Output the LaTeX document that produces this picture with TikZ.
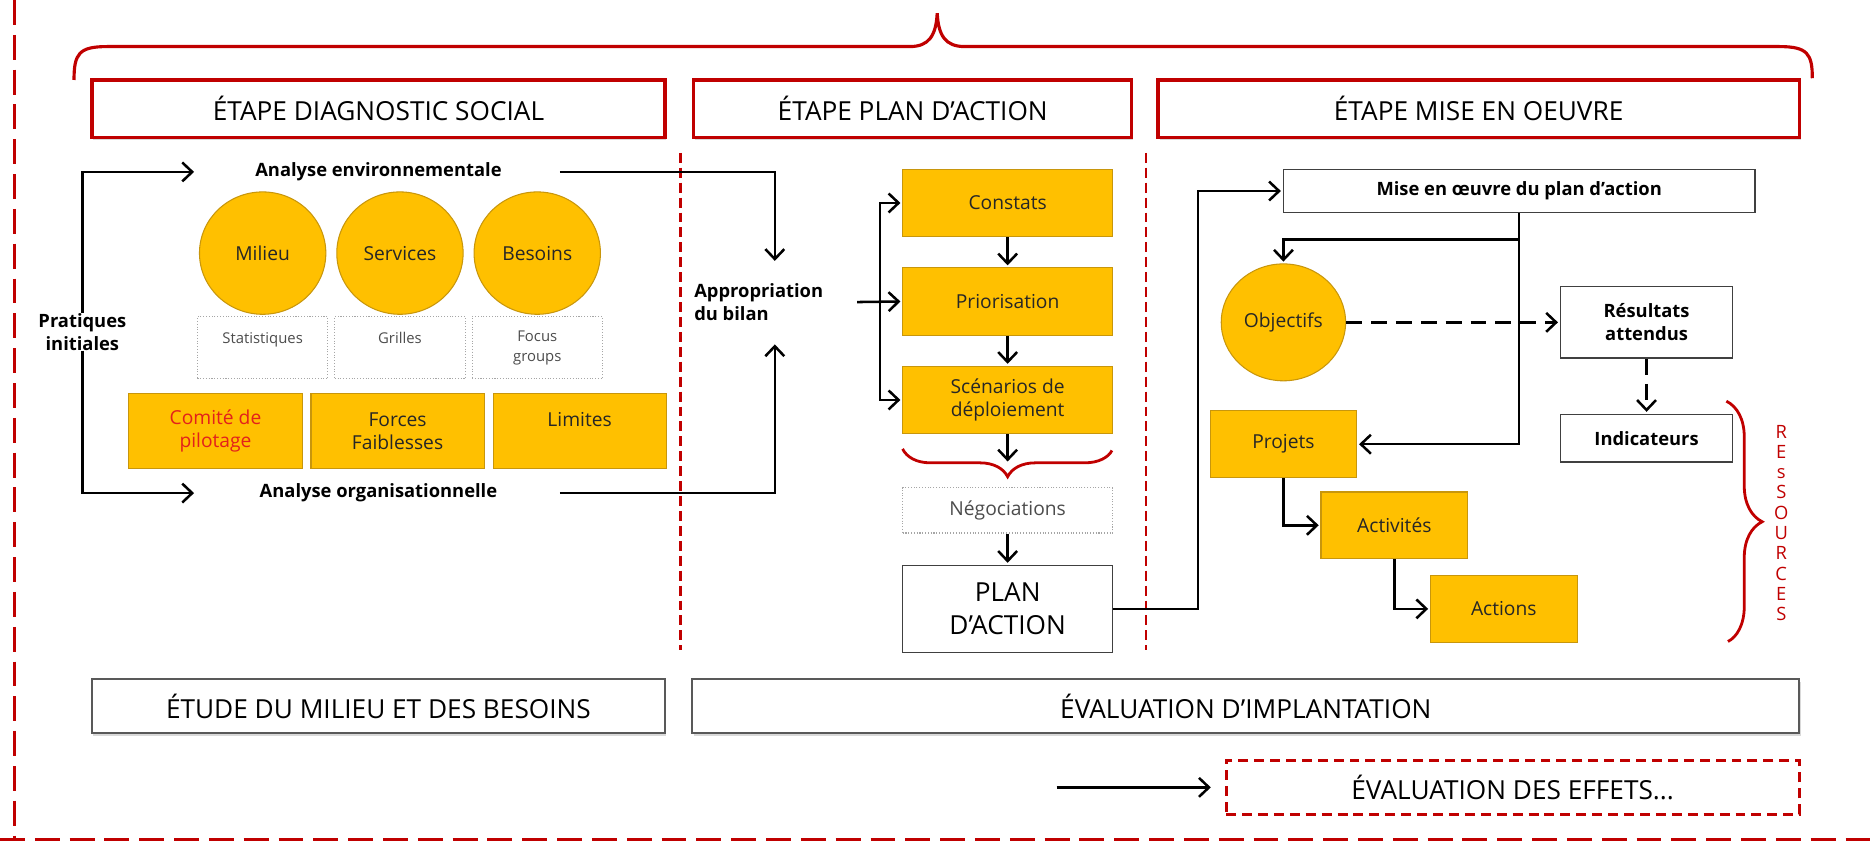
\documentclass[tikz,border=0pt]{standalone}
\usepackage{fontspec}
\setmainfont{Open Sans}
\usetikzlibrary{positioning,shapes.geometric,arrows.meta,decorations.pathreplacing,shadows,calc}
\definecolor{rouge}{HTML}{C00000}
\definecolor{rougevif}{HTML}{E3211B}
\definecolor{jaune}{HTML}{FFC000}
\definecolor{jaunefonce}{HTML}{C8960C}

\tikzset{
  etape/.style={draw=rouge, line width=1.8pt, fill=white, minimum height=11.5mm, inner sep=0pt,
    font=\fontsize{15}{18}\selectfont, drop shadow={opacity=0.3, shadow xshift=0.3mm, shadow yshift=-0.6mm}},
  phase/.style={draw=black!65, line width=1.1pt, fill=white, minimum height=10.8mm, inner sep=0pt,
    font=\fontsize{15}{18}\selectfont, drop shadow={opacity=0.3, shadow xshift=0.3mm, shadow yshift=-0.6mm}},
  effets/.style={draw=rouge, line width=1.6pt, dash pattern=on 2mm off 1.2mm, minimum height=10.8mm,
    inner sep=0pt, font=\fontsize{15}{18}\selectfont},
  cercle/.style={ellipse, draw=jaunefonce, fill=jaune, line width=0.6pt, minimum width=25.4mm,
    minimum height=24.6mm, inner sep=0pt, font=\fontsize{11}{13}\selectfont, text=black!85},
  jaunebox/.style={draw=jaunefonce, fill=jaune, line width=0.6pt, inner sep=0pt, align=center,
    font=\fontsize{11}{13.3}\selectfont, text=black!85},
  pointille/.style={draw=black!35, densely dotted, line width=0.6pt, inner sep=0pt, align=center,
    minimum width=26.2mm, minimum height=12.5mm, font=\fontsize{8.5}{11.4}\selectfont, text=black!70},
  cadre/.style={draw=black!75, line width=0.9pt, fill=white, inner sep=0pt, align=center,
    font=\bfseries\fontsize{10.5}{13}\selectfont},
  libre/.style={inner sep=0pt, align=center, font=\bfseries\fontsize{10.5}{13}\selectfont},
  lien/.style={->, line width=1.45pt},
  tirets/.style={dash pattern=on 3.2mm off 1.8mm},
  separ/.style={draw=rouge, line width=1.4pt, dash pattern=on 2mm off 1mm},
  cadrext/.style={draw=rouge, line width=1.6pt, dash pattern=on 5mm off 2mm},
  accolade/.style={draw=rouge, line width=1.6pt, decorate, decoration={brace, mirror, amplitude=5.6mm}},
  accoladev/.style={draw=rouge, line width=1.6pt, decorate, decoration={brace, amplitude=7.2mm}}
}

\begin{document}
\begin{tikzpicture}[x=0.24mm, y=-0.24mm, on grid, shorten >=1pt,
    >={Straight Barb[length=2mm,width=3.8mm]}]
    \useasboundingbox (0,0) rectangle (1568,708);

    \draw[cadrext] (12,0) -- (12,703);
    \draw[cadrext] (0,703) -- (1568,703);
    \draw[draw=rouge, line width=1.8pt] (62,67) .. controls (62,45) and (66,39) .. (90,39) -- (762,39)
        .. controls (778,39) and (784,30) .. (785,11) .. controls (786,30) and (792,39) .. (808,39)
        -- (1490,39) .. controls (1514,39) and (1518,45) .. (1518,67);

    \node[etape, minimum width=115.2mm] (diag) at (317,91) {ÉTAPE DIAGNOSTIC SOCIAL};
    \node[etape, minimum width=88.1mm] (plana) at (764.5,91) {ÉTAPE PLAN D’ACTION};
    \node[etape, minimum width=128.9mm] (miseo) at (1238.5,91) {ÉTAPE MISE EN OEUVRE};
    \draw[separ] (570,128) -- (570,546);
    \draw[separ] (960,128) -- (960,546);

    \node[libre] (env) at (317,144) {Analyse environnementale};
    \node[libre] (org) at (317,413) {Analyse organisationnelle};
    \node[libre] (prat) at (69,278) {Pratiques\\initiales};
    \coordinate (envg) at (164,144);
    \coordinate (orgg) at (164,413);
    \draw[lien] (prat.north) |- (envg);
    \draw[lien] (prat.south) |- (orgg);

    \node[cercle] (milieu) at (220,212) {Milieu};
    \node[cercle, right=27.6mm of milieu] (serv) {Services};
    \node[cercle, right=27.6mm of serv] (besoins) {Besoins};
    \node[pointille, below=19mm of milieu] (stat) {Statistiques\\\mbox{}};
    \node[pointille, below=19mm of serv] (grilles) {Grilles\\\mbox{}};
    \node[pointille, below=19mm of besoins] (focus) {Focus\\groups};
    \node[jaunebox, minimum width=34.8mm, minimum height=14.9mm, text=rougevif] (comite) at (180.5,361) {Comité de\\pilotage};
    \node[jaunebox, minimum width=34.8mm, minimum height=14.9mm, right=36.6mm of comite] (forces) {Forces\\Faiblesses};
    \node[jaunebox, minimum width=34.8mm, minimum height=14.9mm, right=36.6mm of forces] (limites) {Limites\\\mbox{}};

    \node[libre, align=left] (bilan) at (635.5,253) {Appropriation\\du bilan};
    \coordinate (envd) at (469,144);
    \coordinate (orgd) at (469,413);
    \coordinate (bilhaut) at (649,220);
    \coordinate (bilbas) at (649,287);
    \draw[lien] (envd) -| (bilhaut);
    \draw[lien] (orgd) -| (bilbas);

    \node[jaunebox, minimum width=42.2mm, minimum height=13.6mm] (const) at (844,170) {Constats};
    \node[jaunebox, minimum width=42.2mm, minimum height=13.6mm, below=19.8mm of const] (prio) {Priorisation};
    \node[jaunebox, minimum width=42.2mm, minimum height=13.6mm, below=19.8mm of prio] (scen) {Scénarios de\\déploiement};
    \node[pointille, minimum width=42.2mm, minimum height=9.1mm, font=\fontsize{11}{13}\selectfont, below=22.2mm of scen] (nego) {Négociations};
    \node[cadre, minimum width=42.2mm, minimum height=17.5mm, font=\fontsize{15}{19}\selectfont, below=19.8mm of nego] (plan) {PLAN\\D’ACTION};
    \coordinate (bilsort) at (718,253);
    \coordinate (fourche) at (737,253);
    \coordinate (scensort) at (844,388);
    \draw[lien] (bilsort) -- (prio.west);
    \draw[lien] (fourche) |- (const.west);
    \draw[lien] (fourche) |- (scen.west);
    \path[lien] (const) edge (prio) (prio) edge (scen) (nego) edge (plan);
    \draw[lien] (scen.south) -- (scensort);
    \draw[accolade] (756,376) -- (932,376);

    \node[cadre, minimum width=94.8mm, minimum height=8.6mm] (mise) at (1272.5,160) {Mise en œuvre du plan d’action};
    \draw[lien] (plan.east) -- ++(71,0) |- (mise.west);
    \node[cercle, minimum width=25mm, minimum height=23.5mm] (obj) at (1075,270) {Objectifs};
    \node[cadre, minimum width=34.6mm, minimum height=14.4mm, right=73mm of obj] (res) {Résultats\\attendus};
    \node[cadre, minimum width=34.6mm, minimum height=9.6mm, below=23.3mm of res] (ind) {Indicateurs};
    \node[jaunebox, minimum width=29.5mm, minimum height=13.4mm, below=24.5mm of obj] (proj) {Projets};
    \node[jaunebox, minimum width=29.5mm, minimum height=13.4mm, below right=16.3mm and 22.3mm of proj] (activ) {Activités};
    \node[jaunebox, minimum width=29.5mm, minimum height=13.4mm, below right=16.8mm and 22mm of activ] (actions) {Actions};
    \draw[lien] (mise.south) |- (proj.east);
    \draw[lien] ($(mise.south)+(0,22)$) -| (obj.north);
    \path[lien] (obj) edge[tirets] (res) (res) edge[tirets] (ind);
    \draw[lien] (proj.south) |- (activ.west);
    \draw[lien] (activ.south) |- (actions.west);
    \draw[accoladev] (1446,336) -- (1446,538);
    \node[text=rouge, align=center, font=\fontsize{10.5}{11.6}\selectfont] (ress) at (1492,438) {R\\E\\s\\S\\O\\U\\R\\C\\E\\S};

    \node[phase, minimum width=115.2mm] (etude) at (317,591.5) {ÉTUDE DU MILIEU ET DES BESOINS};
    \node[phase, minimum width=222.5mm] (evalimp) at (1043.5,591.5) {ÉVALUATION D’IMPLANTATION};
    \node[effets, minimum width=115.2mm] (eff) at (1267,659.5) {ÉVALUATION DES EFFETS...};
    \coordinate (effdep) at (885,659.5);
    \draw[lien, shorten >=2.8mm] (effdep) -- (eff.west);
\end{tikzpicture}
\end{document}
